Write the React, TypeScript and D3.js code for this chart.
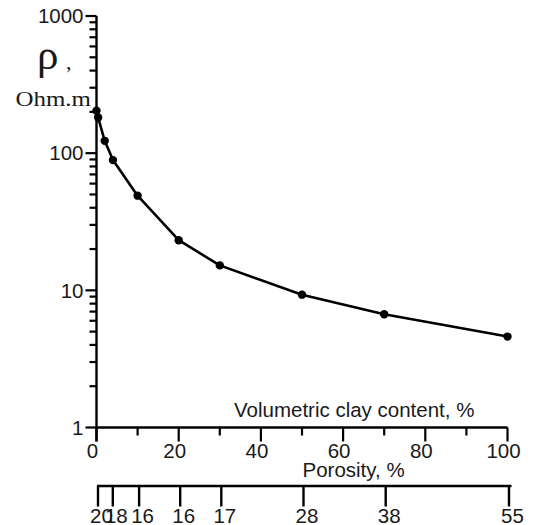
import React from "react";
import * as d3 from "d3";

// Volumetric clay content (%) and resistivity (Ohm.m)
const clayContent = [0, 0.4, 2, 4, 10, 20, 30, 50, 70, 100];
const resistivity = [204, 182, 123, 89, 49, 23.2, 15.2, 9.3, 6.7, 4.6];

const xTicks = [0, 20, 40, 60, 80, 100];
const xMinorTicks = [10, 30, 50, 70, 90];
const yTicks = [1, 10, 100, 1000];

// porosity secondary axis: position on clay scale and label
const porosityPos = [0, 3.6, 10, 20, 30, 50, 70, 100];
const porosityLabels = ["20", "18", "16", "16", "17", "28", "38", "55"];

const W = 535;
const H = 525;
const SANS = "'Liberation Sans', Arial, sans-serif";
const SERIF = "'Liberation Serif', 'Times New Roman', serif";

export default function App() {
  const x = d3.scaleLinear().domain([0, 100]).range([96.5, 507.5]);
  const xPor = d3.scaleLinear().domain([0, 100]).range([98, 509]);
  const y = d3.scaleLog().domain([1, 1000]).range([427.5, 16]);

  const yMinor: number[] = [];
  for (const dec of [1, 10, 100]) {
    for (let k = 2; k <= 9; k++) yMinor.push(dec * k);
  }

  const pts = clayContent.map((c, i) => [c, resistivity[i]] as [number, number]);
  const line = d3
    .line<[number, number]>()
    .x((d) => x(d[0]))
    .y((d) => y(d[1]));

  const axisX = x(0);
  const axisY = y(1);
  const porY = 486;

  return (
    <div style={{ position: "absolute", left: 0, top: 0 }}>
      <svg width={W} height={H} style={{ display: "block", background: "#fff" }}>
        {/* Y axis */}
        <line x1={axisX} x2={axisX} y1={y(1000)} y2={axisY + 14} stroke="#000" strokeWidth={2.4} />
        {yTicks.map((t) => (
          <g key={"yt" + t}>
            <line x1={axisX - 11} x2={axisX} y1={y(t)} y2={y(t)} stroke="#000" strokeWidth={2.2} />
            <text
              x={axisX - 13}
              y={y(t)}
              dy="0.35em"
              textAnchor="end"
              fontFamily={SANS}
              fontSize={20.5}
              fill="#1a1a1a"
            >
              {t}
            </text>
          </g>
        ))}
        {yMinor.map((t) => (
          <line key={"ym" + t} x1={axisX - 7} x2={axisX} y1={y(t)} y2={y(t)} stroke="#000" strokeWidth={2.2} />
        ))}

        {/* X axis */}
        <line x1={axisX} x2={x(100)} y1={axisY} y2={axisY} stroke="#000" strokeWidth={2.4} />
        {xTicks.map((t) => (
          <g key={"xt" + t}>
            <line x1={x(t)} x2={x(t)} y1={axisY} y2={axisY + 14} stroke="#000" strokeWidth={2.2} />
            <text
              x={x(t) - 4}
              y={458}
              textAnchor="middle"
              fontFamily={SANS}
              fontSize={20.5}
              fill="#1a1a1a"
            >
              {t}
            </text>
          </g>
        ))}
        {xMinorTicks.map((t) => (
          <line key={"xm" + t} x1={x(t)} x2={x(t)} y1={axisY} y2={axisY + 8} stroke="#000" strokeWidth={2.2} />
        ))}
        <text x={234} y={416.5} fontFamily={SANS} fontSize={20.5} fill="#1a1a1a">
          Volumetric clay content, %
        </text>

        {/* Porosity axis */}
        <text x={302.5} y={477} fontFamily={SANS} fontSize={20.5} fill="#1a1a1a">
          Porosity, %
        </text>
        <line x1={xPor(0) - 1} x2={xPor(100) + 2.5} y1={porY} y2={porY} stroke="#000" strokeWidth={2.4} />
        {porosityPos.map((p, i) => (
          <g key={"pt" + i}>
            <line x1={xPor(p)} x2={xPor(p)} y1={porY} y2={porY + 20.5} stroke="#000" strokeWidth={2.4} />
            <text
              x={xPor(p) + 3.5}
              y={522.5}
              textAnchor="middle"
              fontFamily={SANS}
              fontSize={20.5}
              fill="#1a1a1a"
            >
              {porosityLabels[i]}
            </text>
          </g>
        ))}

        {/* Y label */}
        <text x={37} y={69} fontFamily={SERIF} fontSize={43} fill="#1a1a1a">
          ρ
        </text>
        <text x={66} y={69} fontFamily={SERIF} fontSize={22} fill="#1a1a1a">
          ,
        </text>
        <text
          x={15.5}
          y={105.5}
          fontFamily={SERIF}
          fontSize={22}
          textLength={75.5}
          lengthAdjust="spacingAndGlyphs"
          fill="#1a1a1a"
        >
          Ohm.m
        </text>

        {/* Data */}
        <path d={line(pts) || ""} fill="none" stroke="#000" strokeWidth={2.6} strokeLinejoin="round" />
        {pts.map((d, i) => (
          <circle key={"p" + i} cx={x(d[0])} cy={y(d[1])} r={4.2} fill="#000" />
        ))}
      </svg>
    </div>
  );
}
